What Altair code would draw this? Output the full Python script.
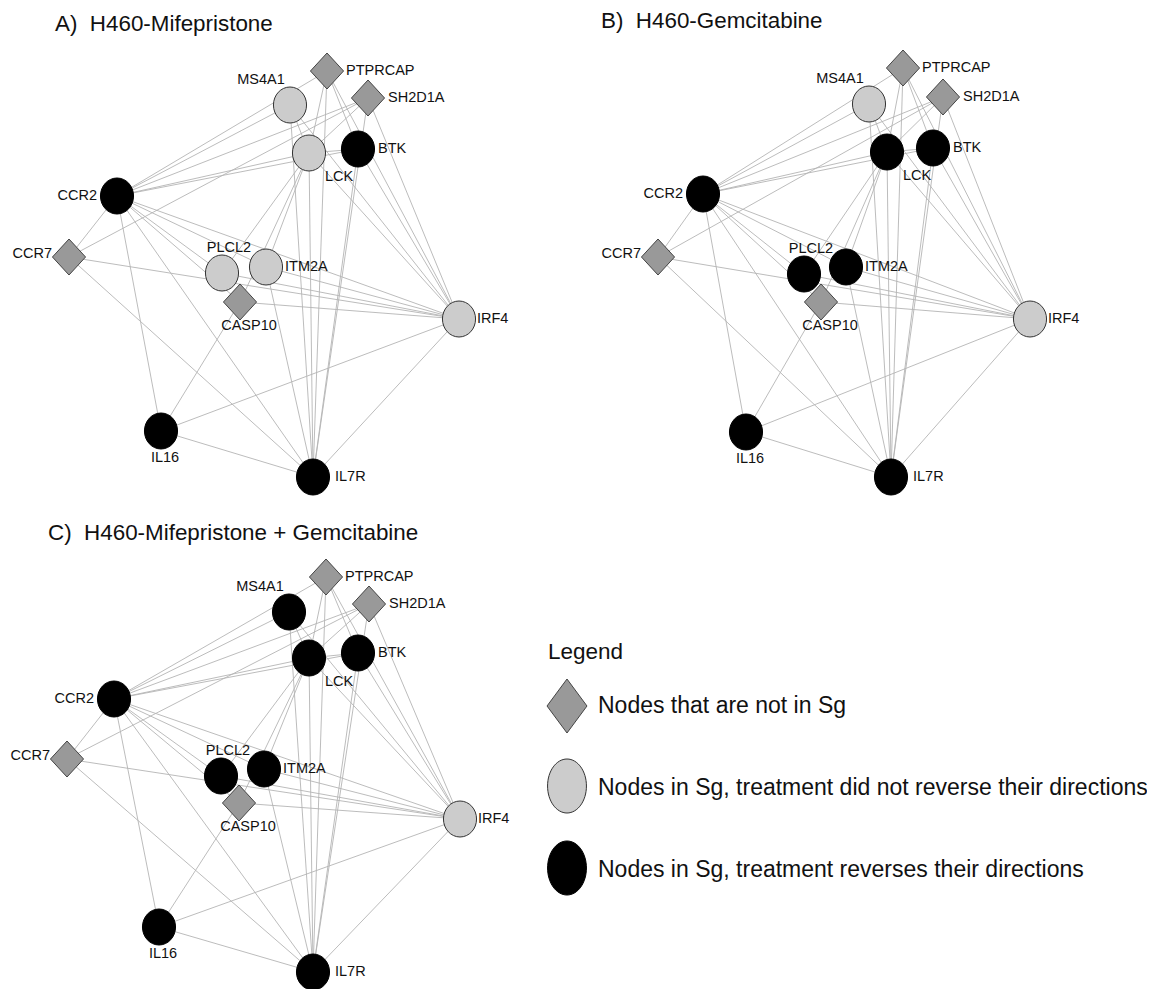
import altair as alt
import pandas as pd

# ---------------- data ----------------
nodes = ["PTPRCAP", "SH2D1A", "MS4A1", "LCK", "BTK", "CCR2", "CCR7",
         "PLCL2", "ITM2A", "CASP10", "IRF4", "IL16", "IL7R"]

# node status per panel: not = not in Sg, keep = not reversed, rev = reversed
status_A = ["not", "not", "keep", "keep", "rev", "rev", "not", "keep", "keep", "not", "keep", "rev", "rev"]
status_B = ["not", "not", "keep", "rev", "rev", "rev", "not", "rev", "rev", "not", "keep", "rev", "rev"]
status_C = ["not", "not", "rev", "rev", "rev", "rev", "not", "rev", "rev", "not", "keep", "rev", "rev"]

# network layout coordinates (page pixel units)
x_A = [327, 368, 290, 309, 358, 117, 69, 222, 266, 240, 459, 161, 313]
y_A = [71, 98, 105, 153, 149, 196, 257, 273, 267, 302, 319, 431, 477]
x_B = [903, 943, 869, 887, 933, 703, 658, 804, 846, 821, 1030, 746, 891]
y_B = [68, 97, 104, 152, 148, 194, 257, 274, 267, 302, 319, 432, 477]
x_C = [326, 369, 289, 309, 358, 114, 67, 221, 264, 239, 460, 159, 313]
y_C = [577, 604, 612, 658, 653, 699, 759, 776, 769, 803, 819, 927, 972]

edges = [
    ("CCR2", "MS4A1"), ("CCR2", "PTPRCAP"), ("CCR2", "SH2D1A"), ("CCR2", "LCK"),
    ("CCR2", "BTK"), ("CCR2", "CCR7"), ("CCR2", "IL16"), ("CCR2", "IL7R"),
    ("CCR2", "PLCL2"), ("CCR2", "ITM2A"), ("CCR2", "CASP10"), ("CCR2", "IRF4"),
    ("CCR7", "SH2D1A"), ("CCR7", "IRF4"), ("CCR7", "IL7R"),
    ("PTPRCAP", "LCK"), ("PTPRCAP", "IL7R"), ("PTPRCAP", "IRF4"), ("PTPRCAP", "BTK"),
    ("SH2D1A", "LCK"), ("SH2D1A", "IRF4"), ("SH2D1A", "IL7R"),
    ("MS4A1", "LCK"), ("MS4A1", "IL7R"), ("MS4A1", "IRF4"),
    ("LCK", "BTK"), ("LCK", "PLCL2"), ("LCK", "ITM2A"), ("LCK", "CASP10"),
    ("LCK", "IL7R"), ("LCK", "IRF4"),
    ("BTK", "IRF4"), ("BTK", "IL7R"),
    ("PLCL2", "IRF4"), ("ITM2A", "IRF4"), ("ITM2A", "IL7R"),
    ("CASP10", "IRF4"), ("CASP10", "IL16"),
    ("IRF4", "IL16"), ("IRF4", "IL7R"), ("IL16", "IL7R"),
]

panel_titles = ["A)\u00a0 H460-Mifepristone", "B)\u00a0 H460-Gemcitabine",
                "C)\u00a0 H460-Mifepristone + Gemcitabine"]
legend_title = "Legend"
legend_labels = ["Nodes that are not in Sg",
                 "Nodes in Sg, treatment did not reverse their directions",
                 "Nodes in Sg, treatment reverses their directions"]
legend_status = ["not", "keep", "rev"]

# ---------------- styling / layout helpers ----------------
K = 0.5523


def ellipse(rx, ry=1.0):
    return (f"M0,-{ry}C{rx*K:.4f},-{ry} {rx},-{ry*K:.4f} {rx},0"
            f"C{rx},{ry*K:.4f} {rx*K:.4f},{ry} 0,{ry}"
            f"C-{rx*K:.4f},{ry} -{rx},{ry*K:.4f} -{rx},0"
            f"C-{rx},-{ry*K:.4f} -{rx*K:.4f},-{ry} 0,-{ry}Z")


def diamond(rx, ry=1.0):
    return f"M0,-{ry}L{rx},0L0,{ry}L-{rx},0Z"


FILL = {"not": "#999999", "keep": "#cccccc", "rev": "#000000"}
STROKE = {"not": "#444444", "keep": "#333333", "rev": "#000000"}
NODE_SHAPE = {"not": diamond(0.92), "keep": ellipse(0.92), "rev": ellipse(0.92)}
LEG_SHAPE = {"not": diamond(0.74), "keep": ellipse(0.72), "rev": ellipse(0.72)}

# label placement relative to node centre: (dx, dy, align)
LABEL_POS = {
    "PTPRCAP": (19, 0, "left"), "SH2D1A": (20, 0, "left"), "MS4A1": (-29, -25, "center"),
    "LCK": (16, 24, "left"), "BTK": (20, 0, "left"), "CCR2": (-20, 0, "right"),
    "CCR7": (-17, -3, "right"), "PLCL2": (7, -25, "center"), "ITM2A": (19, 0, "left"),
    "CASP10": (9, 24, "center"), "IRF4": (18, 0, "left"), "IL16": (4, 27, "center"),
    "IL7R": (22, 0, "left"),
}

panels = [("A", x_A, y_A, status_A), ("B", x_B, y_B, status_B), ("C", x_C, y_C, status_C)]

node_rows, edge_rows = [], []
for p, xs, ys, st in panels:
    pos = {n: (xs[i], ys[i]) for i, n in enumerate(nodes)}
    for i, n in enumerate(nodes):
        dx, dy, al = LABEL_POS[n]
        node_rows.append(dict(panel=p, name=n, x=xs[i], y=ys[i],
                              fill=FILL[st[i]], stroke=STROKE[st[i]], shape=NODE_SHAPE[st[i]],
                              lx=xs[i] + dx, ly=ys[i] + dy, align=al))
    for a, b in edges:
        edge_rows.append(dict(panel=p, x=pos[a][0], y=pos[a][1], x2=pos[b][0], y2=pos[b][1]))

node_df = pd.DataFrame(node_rows)
edge_df = pd.DataFrame(edge_rows)

title_df = pd.DataFrame(dict(text=panel_titles + [legend_title],
                             x=[55, 601, 48, 548], y=[31, 28, 540, 659],
                             size=[22.4, 22.4, 22.4, 22.5]))
leg_y = [706, 786, 868]
leg_text_y = [713, 795, 877]
legend_df = pd.DataFrame(dict(x=[567] * 3, y=leg_y, tx=[598] * 3, ty=leg_text_y,
                              label=legend_labels,
                              fill=[FILL[s] for s in legend_status],
                              stroke=[STROKE[s] for s in legend_status],
                              shape=[LEG_SHAPE[s] for s in legend_status]))

W, H = 1139, 981
xsc = alt.Scale(domain=[8, 8 + W], nice=False, zero=False)
ysc = alt.Scale(domain=[8, 8 + H], nice=False, zero=False, reverse=True)

FONT = "Liberation Sans, Arial, sans-serif"


def X(f):
    return alt.X(f, type="quantitative", scale=xsc, axis=None)


def Y(f):
    return alt.Y(f, type="quantitative", scale=ysc, axis=None)


edge_layer = alt.Chart(edge_df).mark_rule(color="#b4b4b4", strokeWidth=0.9).encode(
    x=X("x"), y=Y("y"), x2="x2", y2="y2")

node_layer = alt.Chart(node_df).mark_point(filled=True, size=1296, strokeWidth=1, opacity=1).encode(
    x=X("x"), y=Y("y"),
    shape=alt.Shape("shape:N", scale=None),
    fill=alt.Fill("fill:N", scale=None),
    stroke=alt.Stroke("stroke:N", scale=None))

label_layers = []
for al in ["left", "center", "right"]:
    label_layers.append(
        alt.Chart(node_df).transform_filter(alt.datum.align == al).mark_text(
            align=al, baseline="middle", font=FONT, fontSize=14.5, color="#111111").encode(
            x=X("lx"), y=Y("ly"), text="name:N"))

title_layer = alt.Chart(title_df).mark_text(
    align="left", baseline="alphabetic", font=FONT, color="#111111").encode(
    x=X("x"), y=Y("y"), text="text:N", size=alt.Size("size:Q", scale=None))

legend_sym = alt.Chart(legend_df).mark_point(filled=True, size=2916, strokeWidth=1, opacity=1).encode(
    x=X("x"), y=Y("y"),
    shape=alt.Shape("shape:N", scale=None),
    fill=alt.Fill("fill:N", scale=None),
    stroke=alt.Stroke("stroke:N", scale=None))

legend_txt = alt.Chart(legend_df).mark_text(
    align="left", baseline="alphabetic", font=FONT, fontSize=23, color="#111111").encode(
    x=X("tx"), y=Y("ty"), text="label:N")

chart = alt.layer(edge_layer, node_layer, *label_layers, title_layer, legend_sym, legend_txt).properties(
    width=W, height=H, autosize=alt.AutoSizeParams(type="none"), padding=0
).configure(background="white", view=alt.ViewConfig(stroke=None))

chart.save("out.html", embed_options={"renderer": "svg", "actions": False})
